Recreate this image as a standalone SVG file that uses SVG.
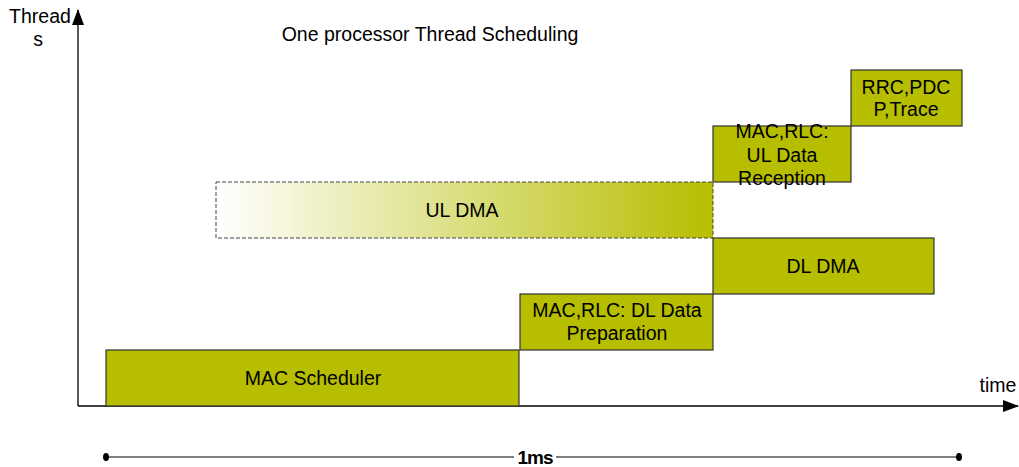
<svg xmlns="http://www.w3.org/2000/svg" width="1019" height="467" viewBox="0 0 1019 467">
  <style>
    .lbl { font-family: "Liberation Sans", Arial, sans-serif; font-size: 19.5px; fill: #000; text-anchor: middle; }
    .box { fill: #B7BE00; stroke: #333; stroke-width: 1.2; }
    .axis { stroke: #000; stroke-width: 1.3; fill: none; }
  </style>
  <defs>
    <marker id="arr" viewBox="0 0 16 12" refX="15" refY="6" markerWidth="16" markerHeight="12" orient="auto" markerUnits="userSpaceOnUse">
      <path d="M0,0 L16,6 L0,12 z" fill="#000"/>
    </marker>
    <linearGradient id="fade" x1="0" y1="0" x2="1" y2="0">
      <stop offset="0" stop-color="#ffffff"/>
      <stop offset="1" stop-color="#B7BE00"/>
    </linearGradient>
  </defs>
  <rect width="1019" height="467" fill="#fff"/>

  <text class="lbl" x="430" y="41">One processor Thread Scheduling</text>

  <g id="connectors">
    <line class="axis" x1="78" y1="406" x2="78" y2="10" marker-end="url(#arr)"/>
    <line class="axis" x1="78" y1="406" x2="1018" y2="406" marker-end="url(#arr)"/>
    <text class="lbl" x="40" y="23">Thread</text>
    <text class="lbl" x="38" y="46">s</text>
    <text class="lbl" x="998" y="392">time</text>
  </g>

  <g id="ul-dma">
    <rect x="216" y="182" width="497" height="56" fill="url(#fade)" stroke="#444" stroke-width="1" stroke-dasharray="4,2"/>
    <text class="lbl" x="462" y="217">UL DMA</text>
  </g>
  <g id="mac-scheduler">
    <rect class="box" x="106" y="350" width="413" height="56"/>
    <text class="lbl" x="313" y="385">MAC Scheduler</text>
  </g>
  <g id="dl-prep">
    <rect class="box" x="520" y="294" width="193" height="56"/>
    <text class="lbl" x="617" y="317">MAC,RLC: DL Data</text>
    <text class="lbl" x="617" y="340">Preparation</text>
  </g>
  <g id="dl-dma">
    <rect class="box" x="713" y="238" width="221" height="56"/>
    <text class="lbl" x="823" y="273">DL DMA</text>
  </g>
  <g id="ul-rx">
    <rect class="box" x="713" y="126" width="138" height="56"/>
    <text class="lbl" x="782" y="138">MAC,RLC:</text>
    <text class="lbl" x="782" y="162">UL Data</text>
    <text class="lbl" x="782" y="185">Reception</text>
  </g>
  <g id="rrc">
    <rect class="box" x="851" y="70" width="111" height="56"/>
    <text class="lbl" x="906" y="94">RRC,PDC</text>
    <text class="lbl" x="906" y="116">P,Trace</text>
  </g>

  <g id="span-1ms">
    <line x1="106" y1="457" x2="959" y2="457" stroke="#555" stroke-width="1.3"/>
    <ellipse cx="106" cy="457" rx="3" ry="4" fill="#000"/>
    <ellipse cx="959" cy="457" rx="3" ry="4" fill="#000"/>
    <rect x="514" y="446" width="42" height="20" fill="#fff"/>
    <text x="535" y="464" font-family="'Liberation Sans', Arial, sans-serif" font-size="19" font-weight="bold" text-anchor="middle" letter-spacing="-1">1ms</text>
  </g>
</svg>
